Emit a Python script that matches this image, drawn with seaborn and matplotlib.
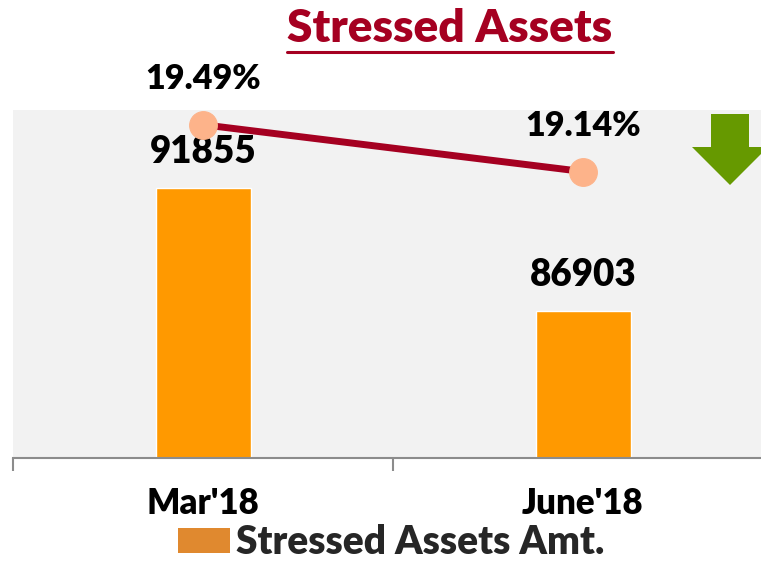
import numpy as np
import pandas as pd
import matplotlib
matplotlib.use("Agg")
import matplotlib.pyplot as plt
import seaborn as sns
from matplotlib.patches import Patch, Polygon
from matplotlib.lines import Line2D

# ---- data ----
categories = ["Mar'18", "June'18"]
amounts = [91855, 86903]
ratios = [19.49, 19.14]
amount_labels = ["91855", "86903"]
ratio_labels = ["19.49%", "19.14%"]
title_text = "Stressed Assets"
legend_text = "Stressed Assets Amt."

sns.set_theme(style="white")
plt.rcParams['font.family'] = ['Lato', 'DejaVu Sans']
plt.rcParams['font.weight'] = 'bold'
WT = "heavy"

W, H = 761, 562
fig = plt.figure(figsize=(W / 100, H / 100), dpi=100)
fig.patch.set_facecolor("white")

# axes: left 13px, right 773px, top 110px, bottom 458px
ax = fig.add_axes([13 / W, (H - 458) / H, 760 / W, 348 / H])
ax.set_facecolor("#f2f2f2")

df = pd.DataFrame({"cat": categories, "amt": amounts, "ratio": ratios})
sns.barplot(data=df, x="cat", y="amt", color="#ff9900", width=0.25,
            saturation=1, ax=ax, zorder=2)
ax.set_xlim(-0.5, 1.5)
ax.set_ylim(81000, 95000)
ax.set_xlabel("")
ax.set_ylabel("")
ax.set_yticks([])
for s in ["top", "left", "right"]:
    ax.spines[s].set_visible(False)
ax.spines["bottom"].set_color("#8c8c8c")
ax.spines["bottom"].set_linewidth(1.5)

# ticks at category boundaries, labels at centers
ax.set_xticks([-0.5, 0.5, 1.5])
ax.set_xticklabels(["", "", ""])
ax.set_xticks(range(len(categories)), minor=True)
ax.set_xticklabels(categories, minor=True, fontsize=25, fontweight=WT,
                   color="black")
ax.tick_params(axis="x", which="major", length=9, width=1.5, color="#8c8c8c",
               direction="out", bottom=True)
ax.tick_params(axis="x", which="minor", length=0, pad=21)

for i, (v, lab) in enumerate(zip(amounts, amount_labels)):
    ax.annotate(lab, xy=(i, v), xytext=(0, 36 * 0.72), textcoords="offset points",
                ha="center", va="center", fontsize=26.5, fontweight=WT,
                color="black", annotation_clip=False)

# secondary axis for ratio line
ax2 = ax.twinx()
line_df = pd.DataFrame({"pos": np.arange(len(categories)), "ratio": ratios})
sns.lineplot(data=line_df, x="pos", y="ratio", color="#a50021", linewidth=5,
             marker="o", markersize=20, markerfacecolor="#fdb38a",
             markeredgecolor="#fdb38a", ax=ax2, zorder=3)
ax2.set_ylim(17.0, 19.6)
ax2.set_xlim(-0.5, 1.5)
ax2.set_yticks([])
ax2.set_ylabel("")
ax2.set_xlabel("")
for s in ["top", "left", "right", "bottom"]:
    ax2.spines[s].set_visible(False)
for i, (v, lab) in enumerate(zip(ratios, ratio_labels)):
    ax2.annotate(lab, xy=(i, v), xytext=(0, 46 * 0.72), textcoords="offset points",
                 ha="center", va="center", fontsize=24.5, fontweight=WT,
                 color="black", annotation_clip=False)

# title with underline
t = fig.text(450 / W, 1 - 28 / H, title_text, ha="center", va="center",
             fontsize=33.2, fontweight=WT, color="#a50021")
fig.canvas.draw()
bb = t.get_window_extent(renderer=fig.canvas.get_renderer())
uy = 1 - 52 / H
fig.add_artist(Line2D([bb.x0 / W, bb.x1 / W], [uy, uy], color="#a50021",
                      linewidth=2.2, transform=fig.transFigure))

# green down arrow
pts = [(711, 114), (749, 114), (749, 147), (768, 147), (730, 185),
       (692, 147), (711, 147)]
fig.add_artist(Polygon([(x / W, 1 - y / H) for x, y in pts], closed=True,
                       facecolor="#669900", edgecolor="none",
                       transform=fig.transFigure))

# legend
handle = Patch(facecolor="#e0892f", edgecolor="none")
fig.legend([handle], [legend_text], loc="lower center",
           bbox_to_anchor=(391 / W, 1 / H), frameon=False,
           prop={"size": 28, "weight": WT}, handlelength=1.33,
           handleheight=0.6, handletextpad=0.16, borderpad=0, borderaxespad=0)

fig.savefig("out.png", dpi=100, facecolor="white")
